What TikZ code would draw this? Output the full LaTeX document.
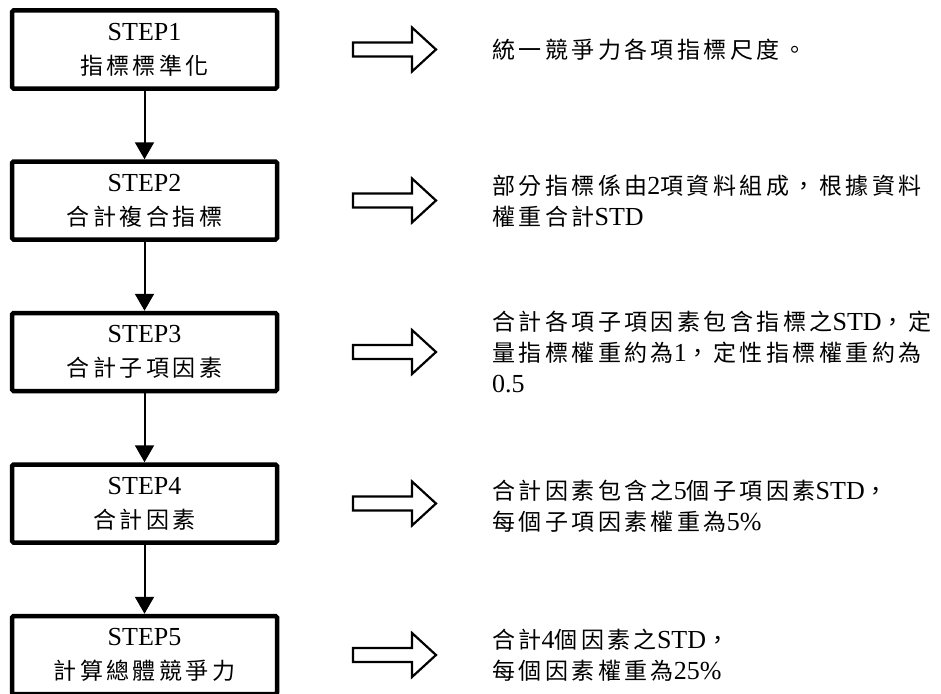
\documentclass[tikz,border=0pt]{standalone}
\usepackage{fontspec}
\setmainfont{Liberation Serif}
\newfontfamily\cjkfont[LetterSpace=15]{Noto Sans CJK TC}
\usetikzlibrary{arrows.meta}
% CJK runs are set a little smaller and spaced out
\newcommand\zh[1]{{\cjkfont\fontsize{23}{31}\selectfont #1}}

\tikzset{
  stepbox/.style={draw, line width=4.5pt, rounded corners=1.5pt,
    minimum width=265pt, minimum height=78pt, inner sep=0pt,
    align=center, font=\fontsize{26}{34}\selectfont},
  flow/.style={line width=2pt, -{Triangle[width=19pt,length=17pt]}},
  note/.style={anchor=west, inner sep=0pt, align=left,
    font=\fontsize{26}{31}\selectfont},
  hollow/.pic={
    \draw[line width=2.2pt, line join=miter]
      (0,-7) -- (59,-7) -- (59,-22) -- (83,0) -- (59,22) -- (59,7) -- (0,7) -- cycle;
  }
}

\begin{document}
\begin{tikzpicture}[x=1pt, y=-1pt]
\useasboundingbox (0,0) rectangle (941,693);

% process steps
\node[stepbox] (s1) at (144.5, 49.5) {STEP1\\\zh{指標標準化}};
\node[stepbox] (s2) at (144.5, 200.5) {STEP2\\\zh{合計複合指標}};
\node[stepbox] (s3) at (144.5, 352) {STEP3\\\zh{合計子項因素}};
\node[stepbox] (s4) at (144.5, 503.5) {STEP4\\\zh{合計因素}};
\node[stepbox] (s5) at (144.5, 655) {STEP5\\\zh{計算總體競爭力}};

\draw[flow] (s1) -- (s2);
\draw[flow] (s2) -- (s3);
\draw[flow] (s3) -- (s4);
\draw[flow] (s4) -- (s5);

% block arrows pointing to the explanations
\pic at (353, 49.5) {hollow};
\pic at (353, 200.5) {hollow};
\pic at (353, 352) {hollow};
\pic at (353, 503.5) {hollow};
\pic at (353, 655) {hollow};

% explanations
\node[note] (t1) at (492, 49.5) {\zh{統一競爭力各項指標尺度。}};
\node[note] (t2) at (492, 201) {\zh{部分指標係由}2\zh{項資料組成，根據資料}\\\zh{權重合計}STD};
\node[note] (t3) at (492, 352) {\zh{合計各項子項因素包含指標之}STD\zh{，定}\\\zh{量指標權重約為}1\zh{，定性指標權重約為}\\0.5};
\node[note] (t4) at (492, 506) {\zh{合計因素包含之}5\zh{個子項因素}STD\zh{，}\\\zh{每個子項因素權重為}5\%};
\node[note] (t5) at (492, 655) {\zh{合計}4\zh{個因素之}STD\zh{，}\\\zh{每個因素權重為}25\%};
\end{tikzpicture}
\end{document}
